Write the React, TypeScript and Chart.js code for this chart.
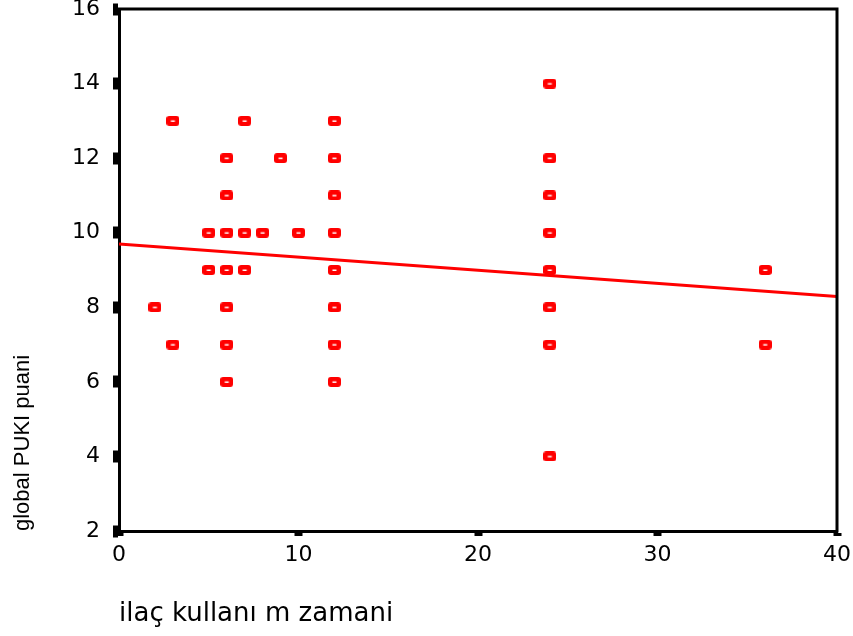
import React, { useEffect, useRef } from "react";
import { Chart, registerables } from "chart.js";

Chart.register(...registerables);

// ilaç kullanım zamanı (x) vs global PUKI puanı (y)
const durationX = [
  2,
  3, 3,
  5, 5,
  6, 6, 6, 6, 6, 6, 6,
  7, 7, 7,
  8,
  9,
  10,
  12, 12, 12, 12, 12, 12, 12, 12,
  24, 24, 24, 24, 24, 24, 24, 24,
  36, 36,
];
const pukiY = [
  8,
  13, 7,
  10, 9,
  12, 11, 10, 9, 8, 7, 6,
  13, 10, 9,
  10,
  12,
  10,
  13, 12, 11, 10, 9, 8, 7, 6,
  14, 12, 11, 10, 9, 8, 7, 4,
  9, 7,
];

// fitted regression line (end points)
const fitX = [0, 40];
const fitY = [9.7, 8.29];

const xTickValues = [0, 10, 20, 30, 40];
const yTickValues = [2, 4, 6, 8, 10, 12, 14, 16];

const xTitle = "ilaç kullanı m zamani";
const yTitle = "global PUKI puani";

const RED = "#ff0000";

function makeMarker(): HTMLCanvasElement {
  const c = document.createElement("canvas");
  c.width = 13;
  c.height = 10;
  const g = c.getContext("2d")!;
  g.fillStyle = RED;
  g.beginPath();
  if ((g as any).roundRect) {
    (g as any).roundRect(0, 0, 13, 10, 3);
  } else {
    g.rect(0, 0, 13, 10);
  }
  g.fill();
  g.fillStyle = "#ffffff";
  g.fillRect(4.5, 4.5, 4, 1.5);
  return c;
}

const framePlugin = {
  id: "frame",
  afterDraw(chart: any) {
    const { ctx, chartArea } = chart;
    const { left, top, right, bottom } = chartArea;
    ctx.save();
    ctx.strokeStyle = "#000";
    ctx.lineWidth = 3;
    ctx.lineCap = "square";
    ctx.beginPath();
    ctx.moveTo(left, top);
    ctx.lineTo(right, top);
    ctx.lineTo(right, bottom);
    ctx.stroke();
    ctx.restore();
  },
};

export default function App() {
  const canvasRef = useRef<HTMLCanvasElement | null>(null);

  useEffect(() => {
    document.body.style.margin = "0";
    const canvas = canvasRef.current;
    if (!canvas) return;
    const marker = makeMarker();

    const points = durationX.map((x, i) => ({ x, y: pukiY[i] }));
    const fit = fitX.map((x, i) => ({ x, y: fitY[i] }));

    const tickFont = { family: "'DejaVu Sans', sans-serif", size: 22 };

    const chart = new Chart(canvas, {
      type: "scatter",
      data: {
        datasets: [
          {
            type: "line",
            label: "fit",
            data: fit,
            borderColor: RED,
            borderWidth: 3,
            pointRadius: 0,
            fill: false,
            order: 2,
          } as any,
          {
            label: "points",
            data: points,
            pointStyle: marker as any,
            pointRadius: 6,
            backgroundColor: RED,
            borderColor: RED,
            order: 1,
          },
        ],
      },
      plugins: [framePlugin],
      options: {
        responsive: false,
        animation: false,
        layout: { padding: { top: 9, right: 16, left: 0, bottom: 0 } },
        plugins: {
          legend: { display: false },
          tooltip: { enabled: false },
        },
        scales: {
          x: {
            type: "linear",
            min: xTickValues[0],
            max: xTickValues[xTickValues.length - 1],
            afterBuildTicks: (scale: any) => {
              scale.ticks = xTickValues.map((v) => ({ value: v }));
            },
            ticks: {
              color: "#000",
              font: tickFont,
              padding: 6,
              maxRotation: 0,
            },
            grid: {
              drawOnChartArea: false,
              drawTicks: true,
              tickLength: 5,
              tickWidth: 8,
              tickColor: "#000",
            },
            border: { display: true, color: "#000", width: 3 },
            title: {
              display: true,
              text: xTitle,
              align: "start",
              color: "#000",
              font: { family: "'DejaVu Sans', sans-serif", size: 26 },
              padding: { top: 0, bottom: 6 },
            },
            afterFit: (scale: any) => {
              scale.height = 105;
              scale.paddingLeft = 0;
              scale.paddingRight = 0;
            },
          },
          y: {
            type: "linear",
            min: yTickValues[0],
            max: yTickValues[yTickValues.length - 1],
            afterBuildTicks: (scale: any) => {
              scale.ticks = yTickValues.map((v) => ({ value: v }));
            },
            ticks: {
              color: "#000",
              font: tickFont,
              padding: 13,
            },
            grid: {
              drawOnChartArea: false,
              drawTicks: true,
              tickLength: 6,
              tickWidth: 12,
              tickColor: "#000",
            },
            border: { display: true, color: "#000", width: 3 },
            title: {
              display: true,
              text: yTitle,
              align: "start",
              color: "#000",
              font: { family: "'Liberation Sans', Arial, sans-serif", size: 22 },
              padding: { top: 10, bottom: 0 },
            },
            afterFit: (scale: any) => {
              scale.width = 119;
              scale.paddingTop = 0;
              scale.paddingBottom = 0;
            },
          },
        },
      } as any,
    });

    return () => {
      chart.destroy();
    };
  }, []);

  return (
    <canvas
      ref={canvasRef}
      width={853}
      height={636}
      style={{ display: "block", position: "fixed", left: 0, top: 0, width: 853, height: 636 }}
    />
  );
}
